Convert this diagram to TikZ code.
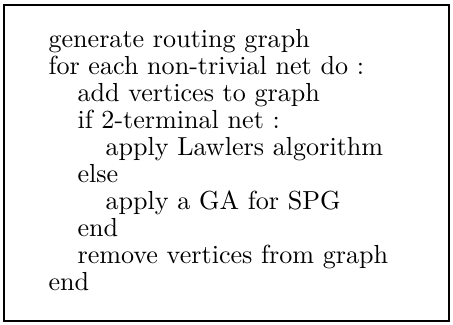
\documentclass[tikz,border=0pt]{standalone}
\usepackage{tikz}

\begin{document}
\begin{tikzpicture}[x=1bp,y=-1bp,codeline/.style={anchor=base west,inner sep=0pt,scale=2.62},framebox/.style={draw,line width=1.6bp}]
	\useasboundingbox (0,0) rectangle (453,324);
	\draw[framebox] (4,5) rectangle (449,321);
	% outer level
	\node [codeline] (gen) at (48,47) {generate routing graph};
	\node [codeline] (for) at (48,74.1) {for each non-trivial net do :};
	% loop body
	\node [codeline] (add) at (77,101.2) {add vertices to graph};
	\node [codeline] (if) at (77,128.3) {if 2-terminal net :};
	\node [codeline] (law) at (105,155.4) {apply Lawlers algorithm};
	\node [codeline] (else) at (77,182.5) {else};
	\node [codeline] (ga) at (105,209.6) {apply a GA for SPG};
	\node [codeline] (endif) at (77,236.7) {end};
	\node [codeline] (rem) at (77,263.8) {remove vertices from graph};
	\node [codeline] (endfor) at (48,290.9) {end};
\end{tikzpicture}
\end{document}
